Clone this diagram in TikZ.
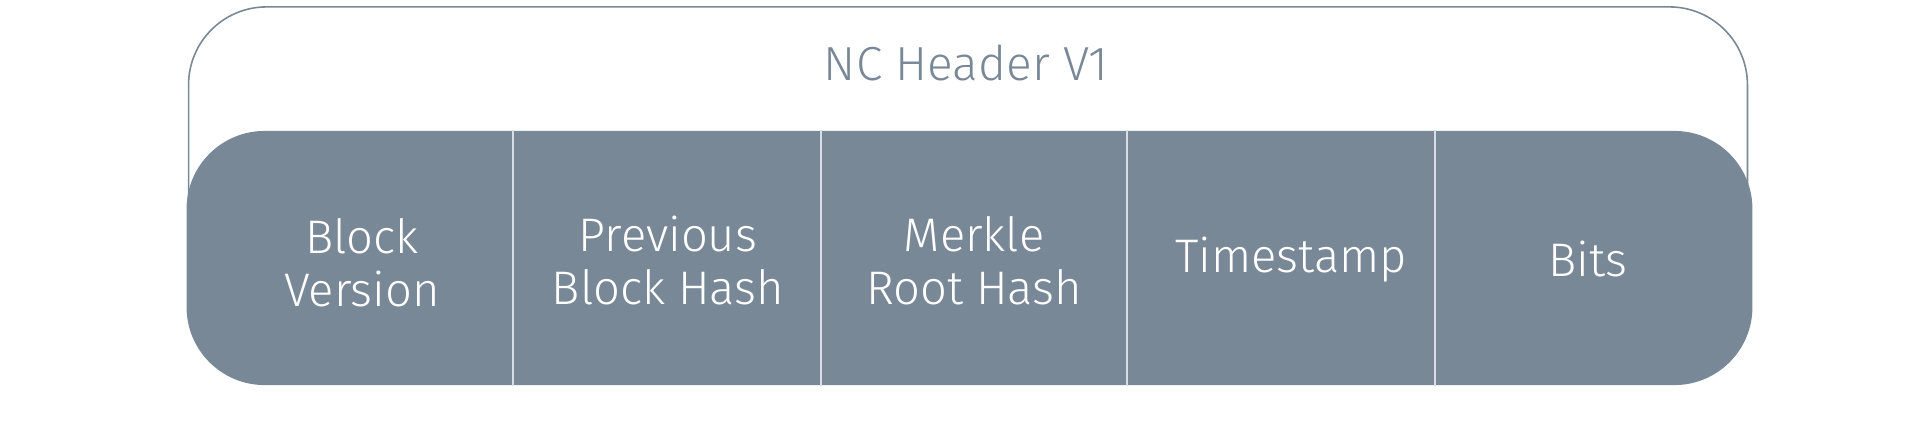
\documentclass[tikz,border=0pt]{standalone}
\usepackage{fontspec}
\setmainfont{Fira Sans Light}
\usetikzlibrary{positioning}
\definecolor{slate}{RGB}{121,136,151}
\definecolor{seam}{RGB}{214,221,228}

\begin{document}
\begin{tikzpicture}[x=0.01cm, y=-0.01cm,
        frame/.style={rectangle, rounded corners=0.78cm, draw=slate, line width=0.45pt, minimum width=15.58cm, minimum height=3.33cm},
        bar/.style={rectangle, rounded corners=0.78cm, fill=slate, minimum width=15.65cm, minimum height=2.54cm},
        field/.style={align=center, text=white, font=\fontsize{13.4}{15.1}\selectfont},
        title/.style={text=slate, font=\fontsize{13.6}{15.1}\selectfont},
        divider/.style={draw=seam, line width=0.6pt}
    ]
        \useasboundingbox (0,0) rectangle (1920,445);

        % Header frame
        \node[frame] (hdr) at (968,173.5) {};
        \node[title, anchor=base] (ttl) at (966,80) {NC Header V1};

        % Fields
        \node[bar] (bar) at (969.5,258) {};
        \node[field] (bv) at (362,263) {Block\\Version};
        \node[field] (pbh) at (668,260.5) {Previous\\Block Hash};
        \node[field] (mrh) at (974,260.5) {Merkle\\Root Hash};
        \node[field] (ts) at (1291,259.5) {Timestamp};
        \node[field] (bits) at (1588,259.5) {Bits};

        % Seams
        \foreach \x in {513,821,1127,1435}
            \draw[divider] (\x,0 |- bar.north) -- (\x,0 |- bar.south);
    \end{tikzpicture}
\end{document}
